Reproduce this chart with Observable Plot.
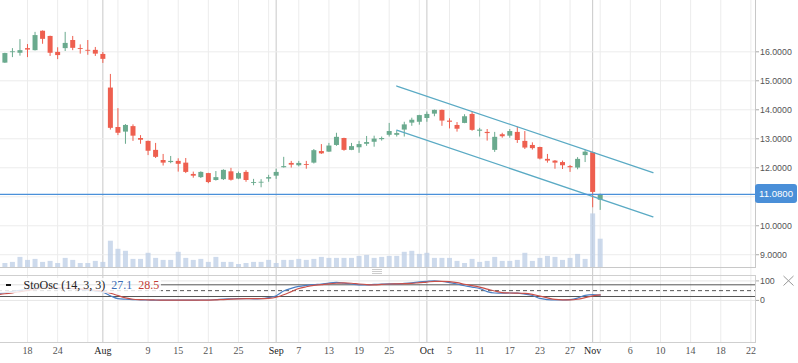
<!DOCTYPE html>
<html><head><meta charset="utf-8">
<script src="https://cdn.jsdelivr.net/npm/d3@7"></script>
<script src="https://cdn.jsdelivr.net/npm/@observablehq/plot@0.6"></script>
<style>
body{margin:0;background:#fff;}
#chart{position:relative;width:798px;height:363px;overflow:hidden;background:#fff;}
#chart svg{position:absolute;left:0;top:0;}
.lg{position:absolute;left:0;top:278px;width:161px;height:15px;background:rgba(255,255,255,0.82);font-family:"Liberation Serif",serif;font-size:12px;line-height:15px;color:#222;white-space:nowrap;}
.lg .dash{position:absolute;left:6px;top:6px;width:5px;height:2px;background:#111;}
.lg .t{position:absolute;left:23.5px;top:0;}
.lab{position:absolute;left:755px;width:42px;height:19px;background:#4a8fd8;border-radius:3px;color:#fff;font-family:"Liberation Sans",sans-serif;font-size:9.6px;line-height:19px;text-align:center;}
</style></head><body><div id="chart"></div>
<script>
// ---- data ----
const dates = [
"2017-07-12","2017-07-13","2017-07-14","2017-07-17","2017-07-18","2017-07-19","2017-07-20","2017-07-21","2017-07-24","2017-07-25","2017-07-26","2017-07-27","2017-07-28","2017-07-31",
"2017-08-01","2017-08-02","2017-08-03","2017-08-04","2017-08-07","2017-08-08","2017-08-09","2017-08-10","2017-08-11","2017-08-14","2017-08-15","2017-08-16","2017-08-17","2017-08-18","2017-08-21","2017-08-22","2017-08-23","2017-08-24","2017-08-25","2017-08-28","2017-08-29","2017-08-30","2017-08-31",
"2017-09-01","2017-09-05","2017-09-06","2017-09-07","2017-09-08","2017-09-11","2017-09-12","2017-09-13","2017-09-14","2017-09-15","2017-09-18","2017-09-19","2017-09-20","2017-09-21","2017-09-22","2017-09-25","2017-09-26","2017-09-27","2017-09-28","2017-09-29",
"2017-10-02","2017-10-03","2017-10-04","2017-10-05","2017-10-06","2017-10-09","2017-10-10","2017-10-11","2017-10-12","2017-10-13","2017-10-16","2017-10-17","2017-10-18","2017-10-19","2017-10-20","2017-10-23","2017-10-24","2017-10-25","2017-10-26","2017-10-27","2017-10-30","2017-10-31",
"2017-11-01","2017-11-02"];
const open = [15.99,15.61,15.97,15.95,16.11,16.04,16.71,16.53,15.98,16.11,16.39,16.11,16.05,16.05,
15.91,14.75,13.39,13.23,13.42,13.01,12.91,12.60,12.25,12.18,12.22,12.16,11.77,11.66,11.80,11.56,11.59,11.86,11.61,11.84,11.46,11.47,11.61,
11.71,12.00,12.15,12.07,12.11,12.16,12.56,12.54,12.77,13.01,12.60,12.69,12.81,12.88,12.97,13.12,13.12,13.30,13.54,13.57,
13.70,13.85,13.98,13.61,13.46,13.53,13.84,13.26,13.22,12.60,13.14,13.09,13.22,12.91,12.77,12.70,12.29,12.23,12.18,12.04,11.99,12.42,
12.52,10.88];
const high = [16.02,15.95,16.11,16.42,16.25,16.67,16.72,16.54,16.14,16.67,16.53,16.24,16.39,16.15,
15.98,15.22,14.04,13.49,13.48,13.11,12.92,12.84,12.46,12.39,12.31,12.32,11.85,11.86,11.81,11.87,11.93,11.98,11.85,11.90,11.60,11.59,11.74,
11.95,12.36,12.22,12.22,12.22,12.63,12.80,12.84,13.19,13.02,12.84,12.91,13.08,13.09,13.06,13.53,13.27,13.57,13.71,13.81,
13.92,13.99,13.99,13.69,13.56,13.83,13.92,13.36,13.32,13.22,13.19,13.32,13.40,13.25,12.86,12.71,12.46,12.25,12.23,12.08,12.35,12.61,
12.54,11.09];
const low = [15.58,15.60,15.80,15.85,15.80,16.03,16.26,15.84,15.73,16.01,16.04,15.92,15.88,15.84,
15.60,13.30,13.11,12.81,12.91,12.81,12.42,12.32,12.06,12.14,11.85,11.80,11.64,11.63,11.45,11.54,11.56,11.54,11.59,11.50,11.38,11.31,11.50,
11.60,11.99,11.99,12.03,11.95,12.13,12.46,12.53,12.74,12.57,12.59,12.50,12.74,12.71,12.92,13.06,13.06,13.06,13.43,13.47,
13.57,13.76,13.43,13.34,13.23,13.52,13.26,13.06,12.92,12.53,13.02,13.02,12.84,12.63,12.61,12.27,12.16,11.95,11.94,11.84,11.93,12.18,
10.62,10.53];
const close = [15.61,15.94,16.00,16.04,16.06,16.56,16.43,15.95,15.87,16.29,16.12,16.08,16.02,15.92,
15.74,13.36,13.19,13.46,13.09,12.95,12.57,12.36,12.16,12.22,12.12,11.84,11.71,11.84,11.49,11.66,11.91,11.57,11.80,11.56,11.49,11.50,11.66,
11.84,12.04,12.09,12.15,12.08,12.59,12.48,12.75,13.05,12.60,12.73,12.80,12.87,12.99,13.01,13.25,13.18,13.48,13.64,13.80,
13.84,13.98,13.61,13.57,13.33,13.76,13.29,13.30,13.18,13.05,13.07,13.25,12.94,12.68,12.66,12.30,12.23,12.16,12.07,12.00,12.29,12.54,
11.15,11.08];
const volume = [4.0,4.0,5.1,10.1,7.1,8.1,5.1,6.1,4.0,9.1,7.1,4.0,4.0,6.1,
5.1,26.3,18.2,16.2,8.1,8.1,14.2,9.1,7.1,7.1,15.2,9.1,7.1,8.1,5.1,10.1,5.1,5.1,3.0,4.0,5.1,5.1,7.1,
4.0,7.1,7.1,8.1,7.1,8.1,10.1,9.1,9.1,9.1,9.1,11.1,12.1,9.1,10.1,11.1,11.1,15.2,16.2,13.1,
14.2,9.1,9.1,9.1,6.1,4.0,8.1,5.1,6.1,10.1,6.1,6.1,7.1,14.2,6.1,9.1,11.1,10.1,7.1,9.1,13.1,8.1,
53.6,28.3];
const stochK = [36,40,46,52,56,64,70,66,60,62,60,56,52,48,
42,24,9,6,4,3,2,1,1,1,1,1,1,2,2,4,7,8,9,9,8,9,14,
24,48,62,72,77,81,84,89,92,88,84,80,79,82,84,85,85,87,90,95,
98,100,97,91,84,75,68,61,45,38,37,38,37,32,25,10,4,2,2,4,12,26,
30,27.1];
const stochD = [30,34,39,45,51,57,63,66,65,63,61,59,56,52,
47,37,25,13,6,4,3,2,1.5,1,1,1,1,1.3,1.7,2.7,4.3,6.3,8,8.7,8.7,8.7,10.3,
16,29,45,61,70,77,81,85,88,90,88,84,81,80,82,84,85,86,87,91,
94,98,98,96,91,83,76,68,58,48,40,38,37,36,31,22,13,5,3,3,6,14,
23,28.5];
const channelUpper = [{date:"2017-09-26", price:14.82},{date:"2017-11-09", price:11.83}];
const channelLower = [{date:"2017-09-26", price:13.30},{date:"2017-11-09", price:10.31}];
const priceGrid = [9,10,11,12,13,14,15,16];
const priceTicks = [9,10,12,13,14,15,16];
const stochTicks = [0,100];
const stochLevels = [20,80];
const stochMid = [50];
const dayTicks = ["2017-07-18","2017-07-24","2017-08-09","2017-08-15","2017-08-21","2017-08-25","2017-09-07","2017-09-13","2017-09-19","2017-09-25","2017-10-05","2017-10-11","2017-10-17","2017-10-23","2017-10-27","2017-11-06","2017-11-10","2017-11-14","2017-11-18","2017-11-22"];
const monthTicks = ["2017-08-01","2017-09-01","2017-10-02","2017-11-01"];
const gridDates = ["2017-07-18","2017-07-24","2017-07-28","2017-08-03","2017-08-09","2017-08-15","2017-08-21","2017-08-25","2017-08-31","2017-09-07","2017-09-13","2017-09-19","2017-09-25","2017-09-29","2017-10-05","2017-10-11","2017-10-17","2017-10-23","2017-10-27","2017-11-02","2017-11-06","2017-11-10","2017-11-14","2017-11-18","2017-11-22"];

// ---- position helpers: trading-day index, calendar days after the last bar ----
const tIdx = new Map(dates.map((d,i)=>[d,i]));
const lastT = Date.parse(dates[dates.length-1]);
const xi = s => tIdx.has(s) ? tIdx.get(s) : (dates.length-1) + (Date.parse(s)-lastT)/864e5;
const fmtDay = d3.utcFormat("%-d"), fmtMon = d3.utcFormat("%b");

const candles = dates.map((d,i)=>({i, o:open[i], h:high[i], l:low[i], c:close[i], v:volume[i], k:stochK[i], dd:stochD[i]}));
const up = candles.filter(d=>d.c>=d.o), dn = candles.filter(d=>d.c<d.o);
const GREEN="#6aaa8e", RED="#ee5f4f";
const W=798, H=363;
const xOpt = {type:"linear", domain:[0.417,100.61], range:[0,755], axis:null};
const st = "background:transparent;overflow:visible;position:absolute;left:0;top:0;max-width:none;";
const chart = document.getElementById("chart");

// grid + date axis
const gridPlot = Plot.plot({
  width:W, height:H, marginLeft:0, marginRight:43, marginTop:0, marginBottom:21, style:st,
  x:xOpt, y:{axis:null, domain:[0,1]},
  marks:[
    Plot.ruleX(gridDates, {x:xi, stroke:"#ececec"}),
    Plot.ruleX(monthTicks, {x:xi, stroke:"#c8c8c8"}),
    Plot.text(dayTicks, {x:xi, text:d=>fmtDay(new Date(d)), frameAnchor:"bottom", dy:11.5, fontSize:10, fontFamily:"Liberation Serif", fill:"#555"}),
    Plot.text(monthTicks, {x:xi, text:d=>fmtMon(new Date(d)), frameAnchor:"bottom", dy:11.5, fontSize:10, fontFamily:"Liberation Serif", fill:"#222"})
  ]
});
chart.appendChild(gridPlot);

// price panel
const pricePlot = Plot.plot({
  width:W, height:268, marginLeft:-2, marginRight:43, marginTop:-2, marginBottom:1, style:st,
  x:xOpt, y:{domain:[8.56,17.77], range:[267,0], axis:null},
  marks:[
    Plot.ruleY(priceGrid, {stroke:"#ececec"}),
    Plot.frame({stroke:"#c8c8c8"}),
    Plot.axisY(priceTicks, {anchor:"right", label:null, tickSize:3, tickPadding:1.5, tickFormat:d=>d.toFixed(4), fontSize:8.8, fontFamily:"Liberation Sans", fill:"#555", stroke:"#aaa"}),
    Plot.ruleX(up, {x:"i", y1:"l", y2:"h", stroke:GREEN}),
    Plot.ruleX(dn, {x:"i", y1:"l", y2:"h", stroke:RED}),
    Plot.ruleX(up, {x:"i", y1:"o", y2:"c", stroke:GREEN, strokeWidth:5}),
    Plot.ruleX(dn, {x:"i", y1:"o", y2:"c", stroke:RED, strokeWidth:5}),
    Plot.line(channelUpper, {x:d=>xi(d.date), y:"price", stroke:"#5aaac4", strokeWidth:1.3}),
    Plot.line(channelLower, {x:d=>xi(d.date), y:"price", stroke:"#5aaac4", strokeWidth:1.3}),
    Plot.ruleY([close[close.length-1]], {stroke:"#4a90d9", strokeWidth:1.2})
  ]
});
chart.appendChild(pricePlot);

// volume overlay
const volPlot = Plot.plot({
  width:W, height:268, marginLeft:-2, marginRight:43, marginTop:-2, marginBottom:1, style:st,
  x:xOpt, y:{domain:[0,100], range:[267,167], axis:null},
  marks:[ Plot.ruleX(candles, {x:"i", y1:0, y2:"v", stroke:"#bccde6", strokeOpacity:0.75, strokeWidth:5}) ]
});
chart.appendChild(volPlot);

// stochastic panel
const stPlot = Plot.plot({
  width:W, height:H, marginLeft:-2, marginRight:43, marginTop:275, marginBottom:21, style:st,
  x:xOpt, y:{domain:[0,100], range:[299.9,280.4], axis:null},
  marks:[
    Plot.ruleY(stochTicks, {stroke:"#e6e6e6"}),
    Plot.frame({stroke:"#cfcfcf"}),
    Plot.ruleY(stochLevels, {stroke:"#555"}),
    Plot.ruleY(stochMid, {stroke:"#555", strokeDasharray:"4,3"}),
    Plot.line(candles, {x:"i", y:"k", stroke:"#4a7fc4", strokeWidth:1.2, curve:"monotone-x"}),
    Plot.line(candles, {x:"i", y:"dd", stroke:"#c9504a", strokeWidth:1.2, curve:"monotone-x"}),
    Plot.axisY(stochTicks, {anchor:"right", label:null, tickSize:3, tickPadding:1.5, fontSize:8.8, fontFamily:"Liberation Sans", fill:"#555", stroke:"#aaa"})
  ]
});
chart.appendChild(stPlot);

// legend
const lg = document.createElement("div");
lg.className = "lg";
lg.innerHTML = `<span class="dash"></span><span class="t">StoOsc (14, 3, 3) <span style="color:#3b6db5;margin-left:3px">${stochK[stochK.length-1].toFixed(1)}</span> <span style="color:#c23b35;margin-left:3px">${stochD[stochD.length-1].toFixed(1)}</span></span>`;
chart.appendChild(lg);

// last price label
const yLast = pricePlot.scale("y").apply(close[close.length-1]);
const lab = document.createElement("div");
lab.className = "lab";
lab.style.top = (yLast - 9.8) + "px";
lab.textContent = close[close.length-1].toFixed(4);
chart.appendChild(lab);

// close icon and drag handle
const deco = document.createElementNS("http://www.w3.org/2000/svg","svg");
deco.setAttribute("width", W); deco.setAttribute("height", H);
deco.style.cssText = "position:absolute;left:0;top:0;pointer-events:none";
deco.innerHTML = `<g stroke="#999" stroke-width="1"><line x1="783.5" y1="276" x2="793.5" y2="285.5"/><line x1="793.5" y1="276" x2="783.5" y2="285.5"/></g>
<g stroke="#ccc" stroke-width="1"><line x1="372" y1="269.5" x2="382" y2="269.5"/><line x1="372" y1="271.5" x2="382" y2="271.5"/><line x1="372" y1="273.5" x2="382" y2="273.5"/></g>`;
chart.appendChild(deco);
</script></body></html>
